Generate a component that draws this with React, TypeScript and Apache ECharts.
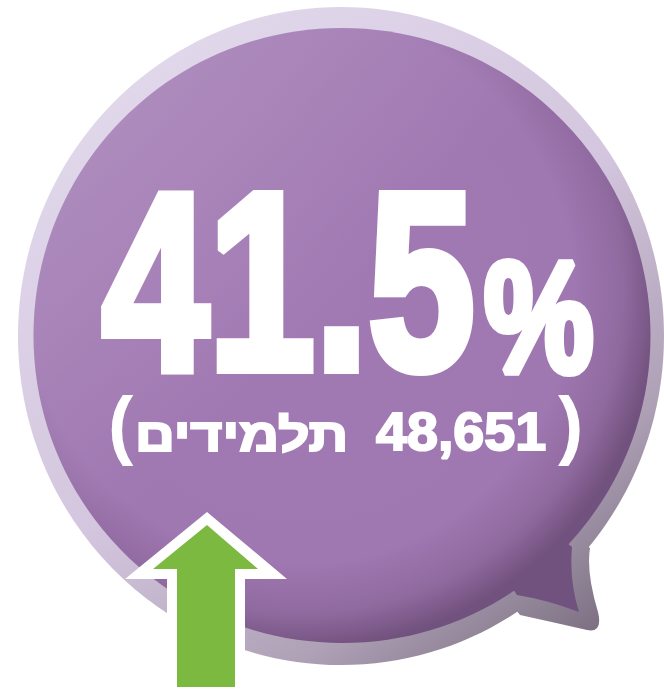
import React, { useEffect, useRef } from "react";
import * as echarts from "echarts";

// Content
const headline = ["41.5", "%"];
const countNumber = ["48,651"];
const countLabel = ["תלמידים"];
const brackets = ["(", ")"];

const OUTER_TAIL =
  "M 565 530 L 590 548 Q 586 572 598 612 Q 603 633 587 630 Q 552 622 520 615 L 500 590 Z";
const INNER_TAIL =
  "M 550 530 L 572 547 Q 569 580 579 612 Q 548 600 517 595 L 500 570 Z";

export default function App() {
  const ref = useRef<HTMLDivElement>(null);
  useEffect(() => {
    if (!ref.current) return;
    echarts.graphic.registerShape("tailOuter", echarts.graphic.extendPath(OUTER_TAIL, {}));
    echarts.graphic.registerShape("tailInner", echarts.graphic.extendPath(INNER_TAIL, {}));
    const chart = echarts.init(ref.current, undefined, { renderer: "svg" });
    const white = "#ffffff";
    const font = "'Liberation Sans', Arial, sans-serif";

    const ringFill = new echarts.graphic.LinearGradient(
      100, 40, 560, 665,
      [
        { offset: 0, color: "#E3DAED" },
        { offset: 0.5, color: "#D3C6DE" },
        { offset: 0.8, color: "#AEA1B6" },
        { offset: 1, color: "#7A6E80" },
      ],
      true
    );
    const bodyFill = new echarts.graphic.RadialGradient(
      300, 290, 360,
      [
        { offset: 0, color: "#A179B3" },
        { offset: 0.76, color: "#9F77B1" },
        { offset: 0.9, color: "#8F6A9F" },
        { offset: 1, color: "#71517D" },
      ],
      true
    );
    const shine = new echarts.graphic.LinearGradient(
      50, 40, 330, 320,
      [
        { offset: 0, color: "rgba(255,255,255,0.2)" },
        { offset: 1, color: "rgba(255,255,255,0)" },
      ],
      true
    );

    chart.setOption({
      animation: false,
      backgroundColor: "#ffffff",
      graphic: {
        elements: [
          { type: "ellipse", shape: { cx: 341, cy: 336, rx: 323, ry: 329 }, style: { fill: ringFill } },
          { type: "tailOuter", style: { fill: ringFill } },
          { type: "ellipse", shape: { cx: 342, cy: 335.5, rx: 308.5, ry: 307.5 }, style: { fill: bodyFill } },
          { type: "tailInner", style: { fill: bodyFill } },
          { type: "ellipse", shape: { cx: 342, cy: 335.5, rx: 308.5, ry: 307.5 }, style: { fill: shine } },
          // headline
          {
            type: "text",
            x: 102,
            y: 281,
            scaleX: 0.76,
            style: {
              text: headline[0],
              fontSize: 252,
              fontFamily: font,
              fontWeight: "bold",
              fill: white,
              stroke: white,
              lineWidth: 10,
              lineJoin: "round",
              align: "left",
              verticalAlign: "middle",
            },
          },
          {
            type: "text",
            x: 484,
            y: 317,
            scaleX: 0.78,
            style: {
              text: headline[1],
              fontSize: 158,
              fontFamily: font,
              fontWeight: "bold",
              fill: white,
              stroke: white,
              lineWidth: 8,
              lineJoin: "round",
              align: "left",
              verticalAlign: "middle",
            },
          },
          // second line
          {
            type: "text",
            x: 108,
            y: 423,
            style: {
              text: brackets[0],
              fontSize: 76,
              fontFamily: font,
              fontWeight: "bold",
              fill: white,
              align: "left",
              verticalAlign: "middle",
            },
          },
          {
            type: "text",
            x: 135,
            y: 435,
            scaleX: 1.2,
            style: {
              text: countLabel[0],
              fontSize: 46,
              fontFamily: font,
              fontWeight: "bold",
              fill: white,
              stroke: white,
              lineWidth: 2,
              align: "left",
              verticalAlign: "middle",
            },
          },
          {
            type: "text",
            x: 376,
            y: 432,
            scaleX: 1.05,
            style: {
              text: countNumber[0],
              fontSize: 53,
              fontFamily: font,
              fontWeight: "bold",
              fill: white,
              stroke: white,
              lineWidth: 2,
              align: "left",
              verticalAlign: "middle",
            },
          },
          {
            type: "text",
            x: 558,
            y: 423,
            style: {
              text: brackets[1],
              fontSize: 76,
              fontFamily: font,
              fontWeight: "bold",
              fill: white,
              align: "left",
              verticalAlign: "middle",
            },
          },
          // arrow
          {
            type: "polygon",
            shape: {
              points: [
                [207, 512],
                [287, 579],
                [245, 579],
                [245, 689],
                [167, 689],
                [167, 579],
                [125, 579],
              ],
            },
            style: { fill: white },
          },
          {
            type: "polygon",
            shape: {
              points: [
                [207, 525],
                [258, 569],
                [235, 569],
                [235, 687],
                [177, 687],
                [177, 569],
                [153, 569],
              ],
            },
            style: { fill: "#7CB940" },
          },
        ],
      },
    });
    return () => chart.dispose();
  }, []);
  return (
    <div
      ref={ref}
      style={{ position: "fixed", left: 0, top: 0, width: 664, height: 689 }}
    />
  );
}
